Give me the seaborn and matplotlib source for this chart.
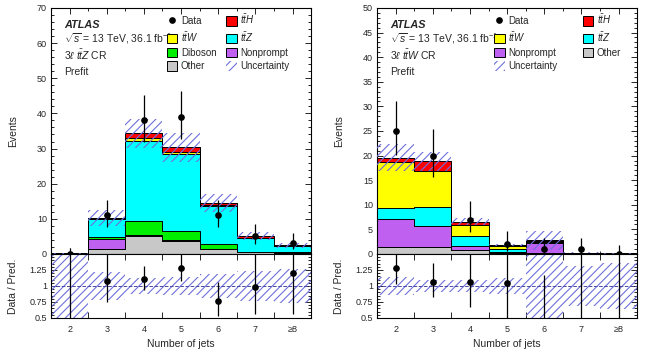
import numpy as np
import pandas as pd
import matplotlib
matplotlib.use('Agg')
import matplotlib.pyplot as plt
from matplotlib.patches import Patch
from matplotlib.lines import Line2D
from matplotlib.ticker import MultipleLocator, FixedLocator, FuncFormatter
import seaborn as sns

# ---- data ----
jets = [2, 3, 4, 5, 6, 7, 8]
jet_labels = ['2', '3', '4', '5', '6', '7', '≥8']

# 3l ttZ CR
ttz_other = [0.05, 1.4, 5.0, 3.8, 1.4, 0.5, 0.3]
ttz_nonprompt = [0.02, 2.8, 0.5, 0.2, 0.1, 0.05, 0.05]
ttz_diboson = [0.03, 0.6, 3.8, 2.6, 1.2, 0.1, 0.2]
ttz_ttz = [0.05, 5.2, 22.8, 21.8, 10.9, 3.9, 1.7]
ttz_ttw = [0.02, 0.1, 1.0, 0.7, 0.2, 0.1, 0.05]
ttz_tth = [0.03, 0.1, 1.2, 1.2, 0.7, 0.4, 0.2]
ttz_data = [0, 11, 38, 39, 11, 5, 3]
ttz_err_dn = [0.0, 3.3, 6.1, 6.2, 3.3, 2.2, 1.6]
ttz_err_up = [1.8, 4.4, 7.2, 7.3, 4.4, 3.4, 2.9]
ttz_unc = [1.0, 0.22, 0.12, 0.14, 0.18, 0.23, 0.27]

# 3l ttW CR
ttw_other = [1.5, 1.5, 0.8, 0.3, 0.1, 0.05, 0.02]
ttw_nonprompt = [5.7, 4.2, 0.9, 0.2, 2.1, 0.1, 0.03]
ttw_ttz = [2.1, 3.8, 2.0, 0.5, 0.2, 0.05, 0.02]
ttw_ttw = [9.3, 7.4, 2.2, 0.6, 0.2, 0.05, 0.02]
ttw_tth = [1.0, 1.9, 0.7, 0.3, 0.2, 0.05, 0.01]
ttw_data = [25, 20, 7, 2, 1, 1, 0]
ttw_err_dn = [4.9, 4.4, 2.6, 1.3, 0.85, 0.85, 0.0]
ttw_err_up = [6.0, 5.5, 3.8, 2.6, 2.3, 2.3, 1.8]
ttw_unc = [0.14, 0.10, 0.10, 0.12, 0.7, 0.31, 0.36]

colors = {
    'tth': '#ff0000', 'ttw': '#ffff00', 'ttz': '#00ffff',
    'diboson': '#00ee00', 'nonprompt': '#c060f0', 'other': '#c8c8c8',
}
labels = {
    'tth': r'$t\bar{t}H$', 'ttw': r'$t\bar{t}W$', 'ttz': r'$t\bar{t}Z$',
    'diboson': 'Diboson', 'nonprompt': 'Nonprompt', 'other': 'Other',
}
hatch_col = '#6f6fdc'

sns.set_theme(style='ticks')
plt.rcParams['font.family'] = ['Liberation Sans', 'DejaVu Sans']
plt.rcParams['mathtext.fontset'] = 'custom'
plt.rcParams['mathtext.rm'] = 'Liberation Sans'
plt.rcParams['mathtext.it'] = 'Liberation Sans:italic'
plt.rcParams['mathtext.bf'] = 'Liberation Sans:bold'
plt.rcParams['hatch.linewidth'] = 0.8

edges = np.arange(1.5, 9.0, 1.0)


def draw_panel(fig, x0, comps, data, err_dn, err_up, unc, ymax, ymajor, yminor,
               region, legend_cols, colspace, leg_x):
    ax = fig.add_axes([x0, 0.2805, 0.4015, 0.6969])
    rax = fig.add_axes([x0, 0.0992, 0.4015, 0.1813], sharex=ax)

    # stacked backgrounds (seaborn stacks last hue level at the bottom)
    order = [k for k in ['tth', 'ttw', 'ttz', 'diboson', 'nonprompt', 'other'] if k in comps]
    rows = []
    for k in order:
        for j, v in zip(jets, comps[k]):
            rows.append({'jets': j, 'proc': k, 'events': v})
    df = pd.DataFrame(rows)
    sns.histplot(data=df, x='jets', weights='events', hue='proc', hue_order=order,
                 palette=colors, multiple='stack', discrete=True, element='step',
                 fill=True, alpha=1, edgecolor='black', linewidth=0.7,
                 legend=False, ax=ax)

    pred = np.sum([np.array(comps[k]) for k in order], axis=0)
    unc = np.array(unc)
    data = np.array(data, dtype=float)
    err_dn = np.array(err_dn)
    err_up = np.array(err_up)

    ax.stairs(pred * (1 + unc), edges, baseline=np.clip(pred * (1 - unc), 0, None),
              fill=True, facecolor='none', edgecolor=hatch_col, linewidth=0,
              hatch='////', zorder=4)
    ax.errorbar(jets, data, yerr=[err_dn, err_up], fmt='o', color='black', ms=3.8,
                elinewidth=0.9, capsize=0, zorder=6)

    ax.set_xlim(1.5, 8.5)
    ax.set_ylim(0, ymax)
    ax.set_xlabel('')
    ax.set_ylabel('Events', fontsize=7.5)
    ax.yaxis.set_label_coords(-0.125, 0.5)
    ax.yaxis.set_major_locator(MultipleLocator(ymajor))
    ax.yaxis.set_minor_locator(MultipleLocator(yminor))
    ax.xaxis.set_major_locator(FixedLocator(jets))
    ax.xaxis.set_minor_locator(FixedLocator(edges))
    ax.tick_params(labelbottom=False)

    # ratio panel
    ratio = data / pred
    rax.stairs(1 + unc, edges, baseline=1 - unc, fill=True, facecolor='none',
               edgecolor=hatch_col, linewidth=0, hatch='////', zorder=2)
    rax.axhline(1, color='#4a4aa0', ls='--', lw=0.7, zorder=3)
    rax.errorbar(jets, ratio, yerr=[err_dn / pred, err_up / pred], fmt='o',
                 color='black', ms=3.8, elinewidth=0.9, capsize=0, zorder=5)
    rax.set_ylim(0.5, 1.5)
    rax.yaxis.set_major_locator(FixedLocator([0.5, 0.75, 1.0, 1.25]))
    rax.yaxis.set_major_formatter(FuncFormatter(lambda v, p: f'{v:g}'))
    rax.yaxis.set_minor_locator(MultipleLocator(0.05))
    rax.set_xticks(jets)
    rax.set_xticklabels(jet_labels)
    rax.xaxis.set_minor_locator(FixedLocator(edges))
    rax.set_ylabel('Data / Pred.', fontsize=7.5)
    rax.yaxis.set_label_coords(-0.125, 0.5)
    rax.set_xlabel('Number of jets', fontsize=7.5, labelpad=4)

    for a in (ax, rax):
        a.tick_params(which='both', direction='in', top=True, right=True,
                      labelsize=6.5, width=0.7, pad=3)
        a.tick_params(which='major', length=4)
        a.tick_params(which='minor', length=2)
        for s in a.spines.values():
            s.set_linewidth(0.8)
            s.set_color('black')
    rax.tick_params(axis='x', which='major', length=0, pad=5)
    rax.tick_params(axis='x', which='minor', length=4)

    # annotations
    ax.text(0.05, 0.918, 'ATLAS', transform=ax.transAxes, fontsize=7.8,
            fontweight='bold', fontstyle='italic')
    ax.text(0.05, 0.858, r'$\sqrt{s}$ = 13 TeV, 36.1 fb$^{-1}$',
            transform=ax.transAxes, fontsize=7.5)
    ax.text(0.05, 0.79, region, transform=ax.transAxes, fontsize=7.5)
    ax.text(0.05, 0.728, 'Prefit', transform=ax.transAxes, fontsize=7.5)

    # legend
    def handle(k):
        if k == 'data':
            return Line2D([], [], marker='o', color='black', ls='none', ms=3.8)
        if k == 'unc':
            return Patch(facecolor='none', edgecolor=hatch_col, linewidth=0, hatch='////')
        return Patch(facecolor=colors[k], edgecolor='black', linewidth=0.7)

    names = {'data': 'Data', 'unc': 'Uncertainty', **labels}
    keys = legend_cols[0] + legend_cols[1]
    ax.legend([handle(k) for k in keys], [names[k] for k in keys], ncol=2,
              loc='upper left', bbox_to_anchor=(leg_x, 0.982), frameon=False,
              fontsize=7, handlelength=1.1, handleheight=1.1, handletextpad=0.35,
              labelspacing=0.38, columnspacing=colspace, borderaxespad=0,
              borderpad=0)
    return ax, rax


fig = plt.figure(figsize=(6.48, 3.53), dpi=100)

draw_panel(fig, 0.0787,
           {'tth': ttz_tth, 'ttw': ttz_ttw, 'ttz': ttz_ttz, 'diboson': ttz_diboson,
            'nonprompt': ttz_nonprompt, 'other': ttz_other},
           ttz_data, ttz_err_dn, ttz_err_up, ttz_unc, 70, 10, 2,
           r'3$\ell$ $t\bar{t}Z$ CR',
           [['data', 'ttw', 'diboson', 'other'], ['tth', 'ttz', 'nonprompt', 'unc']],
           1.0, 0.445)

draw_panel(fig, 0.5818,
           {'tth': ttw_tth, 'ttw': ttw_ttw, 'ttz': ttw_ttz,
            'nonprompt': ttw_nonprompt, 'other': ttw_other},
           ttw_data, ttw_err_dn, ttw_err_up, ttw_unc, 50, 5, 1,
           r'3$\ell$ $t\bar{t}W$ CR',
           [['data', 'ttw', 'nonprompt', 'unc'], ['tth', 'ttz', 'other']],
           2.6, 0.45)

fig.savefig('out.png', dpi=100)
